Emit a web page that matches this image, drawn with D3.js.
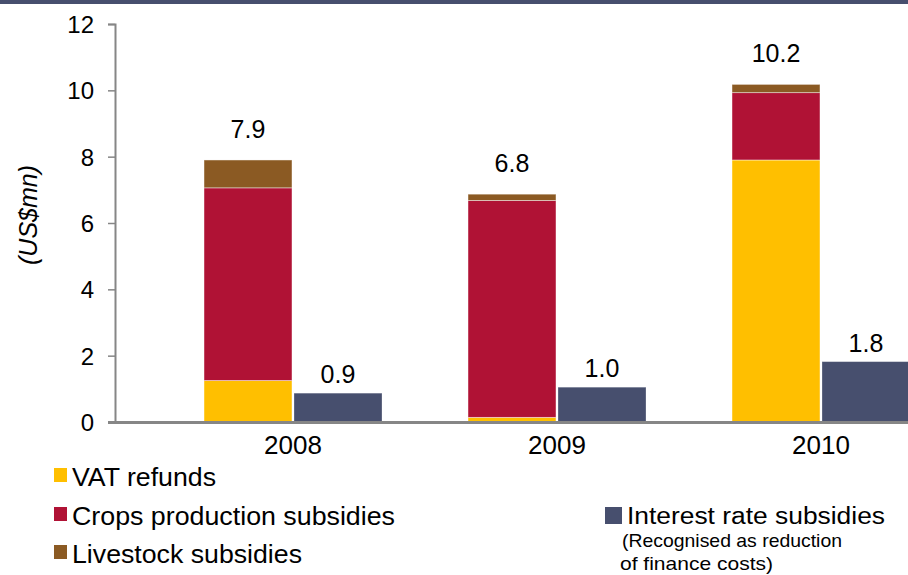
<!DOCTYPE html>
<html>
<head>
<meta charset="utf-8">
<script src="https://cdn.jsdelivr.net/npm/d3@7"></script>
<style>
  html, body { margin: 0; padding: 0; background: #fff; }
  svg { display: block; font-family: "Liberation Sans", Arial, sans-serif; }
</style>
</head>
<body>
<svg id="chart" width="908" height="575"></svg>
<script>
// ---- data ----
const years = ["2008", "2009", "2010"];
const vatRefunds = [1.25, 0.14, 7.9];
const cropsSubsidies = [5.81, 6.54, 2.03];
const livestockSubsidies = [0.84, 0.19, 0.25];
const interestSubsidies = [0.87, 1.05, 1.82];
const totalLabels = ["7.9", "6.8", "10.2"];
const interestLabels = ["0.9", "1.0", "1.8"];
const yTicks = [0, 2, 4, 6, 8, 10, 12];
const seriesNames = ["VAT refunds", "Crops production subsidies", "Livestock subsidies"];
const interestName = "Interest rate subsidies";
const interestNote = ["(Recognised as reduction", "of finance costs)"];
const yAxisTitle = "(US$mn)";

const colors = {
  "VAT refunds": "#FFBF00",
  "Crops production subsidies": "#B01235",
  "Livestock subsidies": "#8B5A23",
  "Interest": "#474F6E"
};

const svg = d3.select("#chart");

// top border line
svg.append("rect").attr("x", 0).attr("y", 0).attr("width", 908).attr("height", 4)
  .attr("fill", "#474F6E");

// scales
const y = d3.scaleLinear().domain([0, 12]).range([422, 24]);
const x0 = d3.scaleBand().domain(years).range([161, 953]).padding(0);
const x1 = d3.scaleBand().domain(["stack", "interest"])
  .range([43, 221]).paddingInner(2 / 90).paddingOuter(0);

// stacked data
const rows = years.map((yr, i) => ({
  year: yr,
  "VAT refunds": vatRefunds[i],
  "Crops production subsidies": cropsSubsidies[i],
  "Livestock subsidies": livestockSubsidies[i]
}));
const stacked = d3.stack().keys(seriesNames)(rows);

const gBars = svg.append("g");
stacked.forEach(s => {
  gBars.selectAll(null).data(s).enter().append("rect")
    .attr("x", d => x0(d.data.year) + x1("stack"))
    .attr("width", x1.bandwidth())
    .attr("y", d => y(d[1]))
    .attr("height", d => y(d[0]) - y(d[1]))
    .attr("fill", colors[s.key])
    .attr("stroke", "rgba(255,255,255,0.55)")
    .attr("stroke-width", 0.8);
});

// interest bars
gBars.selectAll(null).data(years).enter().append("rect")
  .attr("x", (d) => x0(d) + x1("interest"))
  .attr("width", x1.bandwidth())
  .attr("y", (d, i) => y(interestSubsidies[i]))
  .attr("height", (d, i) => y(0) - y(interestSubsidies[i]))
  .attr("fill", colors.Interest)
  .attr("stroke", "rgba(255,255,255,0.35)")
  .attr("stroke-width", 0.8);

// value labels
const totals = years.map((d, i) => vatRefunds[i] + cropsSubsidies[i] + livestockSubsidies[i]);
svg.append("g").selectAll("text").data(years).enter().append("text")
  .attr("x", d => x0(d) + x1("stack") + x1.bandwidth() / 2)
  .attr("y", (d, i) => y(totals[i]) - 22)
  .attr("text-anchor", "middle")
  .attr("font-size", 25)
  .attr("fill", "#000")
  .text((d, i) => totalLabels[i]);

svg.append("g").selectAll("text").data(years).enter().append("text")
  .attr("x", d => x0(d) + x1("interest") + x1.bandwidth() / 2)
  .attr("y", (d, i) => y(interestSubsidies[i]) - 10)
  .attr("text-anchor", "middle")
  .attr("font-size", 25)
  .attr("fill", "#000")
  .text((d, i) => interestLabels[i]);

// y axis
const yAxis = d3.axisLeft(y).tickValues(yTicks).tickSizeInner(7).tickSizeOuter(7).tickPadding(14)
  .tickFormat(d3.format("d"));
const gy = svg.append("g").attr("transform", "translate(115,0)").call(yAxis);
gy.select(".domain").attr("stroke", "#868686").attr("stroke-width", 2);
gy.selectAll(".tick line").attr("stroke", "#868686").attr("stroke-width", 1.5);
gy.selectAll(".tick text").attr("font-size", 24).attr("fill", "#000")
  .attr("font-family", "'Liberation Sans', Arial, sans-serif").attr("dy", "0.35em");

// x axis baseline
svg.append("line").attr("x1", 108).attr("x2", 908).attr("y1", y(0) + 0.5).attr("y2", y(0) + 0.5)
  .attr("stroke", "#868686").attr("stroke-width", 3);

// x labels
svg.append("g").selectAll("text").data(years).enter().append("text")
  .attr("x", d => x0(d) + x0.bandwidth() / 2)
  .attr("y", 454)
  .attr("text-anchor", "middle")
  .attr("font-size", 26)
  .attr("fill", "#000")
  .text(d => d);

// y axis title
svg.append("text")
  .attr("transform", "translate(37,215) rotate(-90)")
  .attr("text-anchor", "middle")
  .attr("font-size", 25)
  .attr("font-style", "italic")
  .attr("fill", "#000")
  .text(yAxisTitle);

// legend (left)
const legBase = [486, 525, 563];
const legWidths = [144, 323, 230];
const gLeg = svg.append("g");
seriesNames.forEach((name, i) => {
  gLeg.append("rect").attr("x", 54).attr("y", legBase[i] - 18).attr("width", 13).attr("height", 14)
    .attr("fill", colors[name]);
  gLeg.append("text").attr("x", 72).attr("y", legBase[i])
    .attr("font-size", 26).attr("fill", "#000")
    .attr("textLength", legWidths[i]).attr("lengthAdjust", "spacingAndGlyphs")
    .text(name);
});

// legend (interest)
gLeg.append("rect").attr("x", 605).attr("y", 507).attr("width", 17).attr("height", 17)
  .attr("fill", colors.Interest);
gLeg.append("text").attr("x", 627).attr("y", 524)
  .attr("font-size", 23).attr("fill", "#000")
  .attr("textLength", 258).attr("lengthAdjust", "spacingAndGlyphs")
  .text(interestName);
gLeg.append("text").attr("x", 622).attr("y", 547)
  .attr("font-size", 19).attr("fill", "#000")
  .attr("textLength", 220).attr("lengthAdjust", "spacingAndGlyphs")
  .text(interestNote[0]);
gLeg.append("text").attr("x", 620).attr("y", 570)
  .attr("font-size", 19).attr("fill", "#000")
  .attr("textLength", 153).attr("lengthAdjust", "spacingAndGlyphs")
  .text(interestNote[1]);
</script>
</body>
</html>
